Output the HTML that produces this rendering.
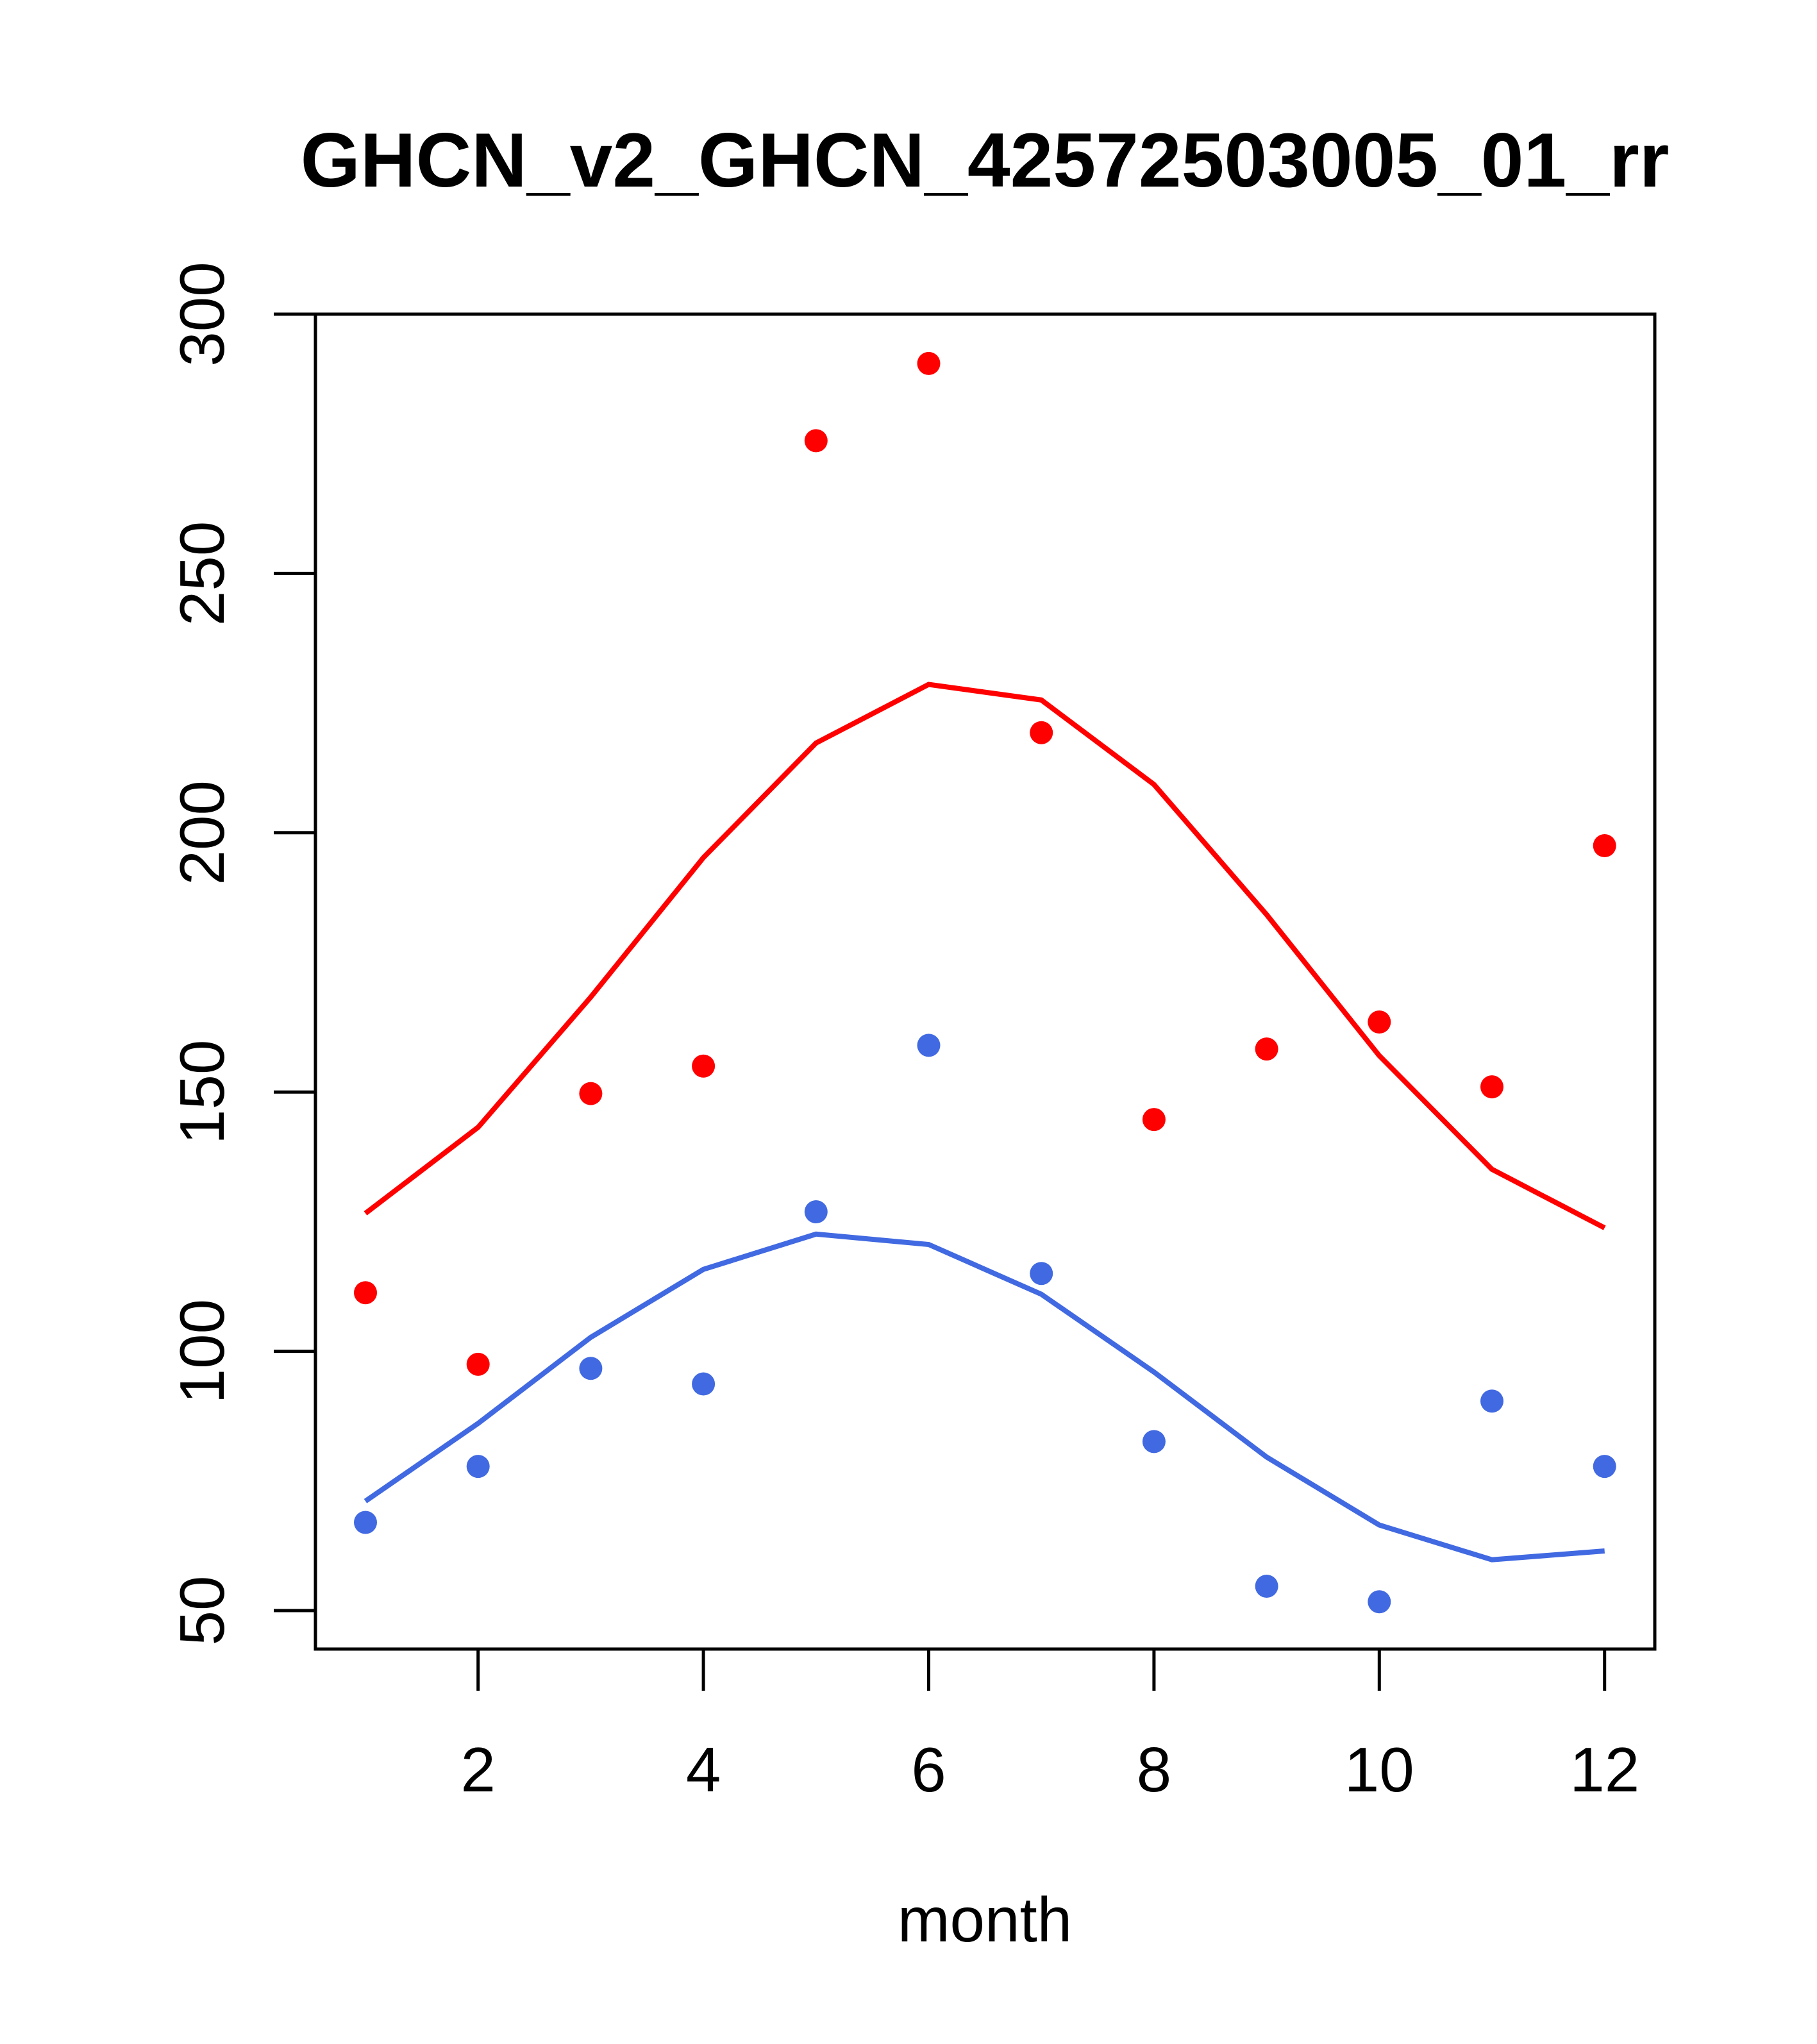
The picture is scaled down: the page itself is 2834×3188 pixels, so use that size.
<!DOCTYPE html>
<html><head><meta charset="utf-8"><style>html,body{margin:0;padding:0;background:#fff}svg{display:block}</style></head>
<body>
<svg id="chart" width="2834" height="3188" viewBox="0 0 2834 3188" xmlns="http://www.w3.org/2000/svg" font-family="Liberation Sans, sans-serif">
<text x="1536" y="291" font-size="120" font-weight="bold" text-anchor="middle">GHCN_v2_GHCN_42572503005_01_rr</text>
<rect x="492" y="490" width="2089" height="2082" fill="none" stroke="#000" stroke-width="5"/>
<g id="axes"></g>
<g id="series"></g>
<text x="1536" y="3028" font-size="98" text-anchor="middle">month</text>
</svg>
<script>
const months = [1,2,3,4,5,6,7,8,9,10,11,12];
const redPoints = [111.3,97.5,149.7,155,275.6,290.5,219.3,144.7,158.3,163.5,151,197.5];
const redLine = [126.6,143.2,168.3,195.2,217.3,228.6,225.6,209.3,184.2,157,135.1,123.8];
const bluePoints = [67,77.8,96.7,93.7,126.9,159,115,82.6,54.7,51.7,90.4,77.8];
const blueLine = [71.1,86.1,102.7,115.8,122.6,120.6,111,96,79.6,66.5,59.8,61.5];
const xTicks = [2,4,6,8,10,12];
const yTicks = [50,100,150,200,250,300];

const NS = 'http://www.w3.org/2000/svg';
const x = m => 570 + (m - 1) * 175.7;
const y = v => 2512 - (v - 50) * (2022 / 250);
function mk(tag, attrs, parent) {
  const e = document.createElementNS(NS, tag);
  for (const k in attrs) e.setAttribute(k, attrs[k]);
  parent.appendChild(e);
  return e;
}
const axes = document.getElementById('axes');
const series = document.getElementById('series');
mk('line', {x1: x(2), x2: x(12), y1: 2572, y2: 2572, stroke: '#000', 'stroke-width': 5}, axes);
xTicks.forEach(t => {
  const l = mk('line', {x1: x(t), x2: x(t), y1: 2572, y2: 2637, stroke: '#000', 'stroke-width': 5}, axes);
  
  
  const tx = mk('text', {x: x(t), y: 2794, 'font-size': 98, 'text-anchor': 'middle'}, axes);
  tx.textContent = t;
  
  
});
mk('line', {x1: 492, x2: 492, y1: y(50), y2: y(300), stroke: '#000', 'stroke-width': 5}, axes);
yTicks.forEach(t => {
  const l = mk('line', {x1: 427, x2: 492, y1: y(t), y2: y(t), stroke: '#000', 'stroke-width': 5}, axes);
  
  
  const tx = mk('text', {x: 0, y: 0, 'font-size': 98, 'text-anchor': 'middle', transform: `translate(349,${y(t)}) rotate(-90)`}, axes);
  tx.textContent = t;
  
  
});
function drawLine(vals, color, name) {
  const p = mk('polyline', {points: vals.map((v, i) => x(months[i]) + ',' + y(v)).join(' '), fill: 'none', stroke: color, 'stroke-width': 8}, series);
  
  
}
function drawPts(vals, color, name) {
  vals.forEach((v, i) => {
    const c = mk('circle', {cx: x(months[i]), cy: y(v), r: 18, fill: color}, series);
    
    
  });
}
drawLine(redLine, '#ff0000', 'red-line');
drawLine(blueLine, '#4169e1', 'blue-line');
drawPts(redPoints, '#ff0000', 'red-point');
drawPts(bluePoints, '#4169e1', 'blue-point');
</script>
</body></html>
